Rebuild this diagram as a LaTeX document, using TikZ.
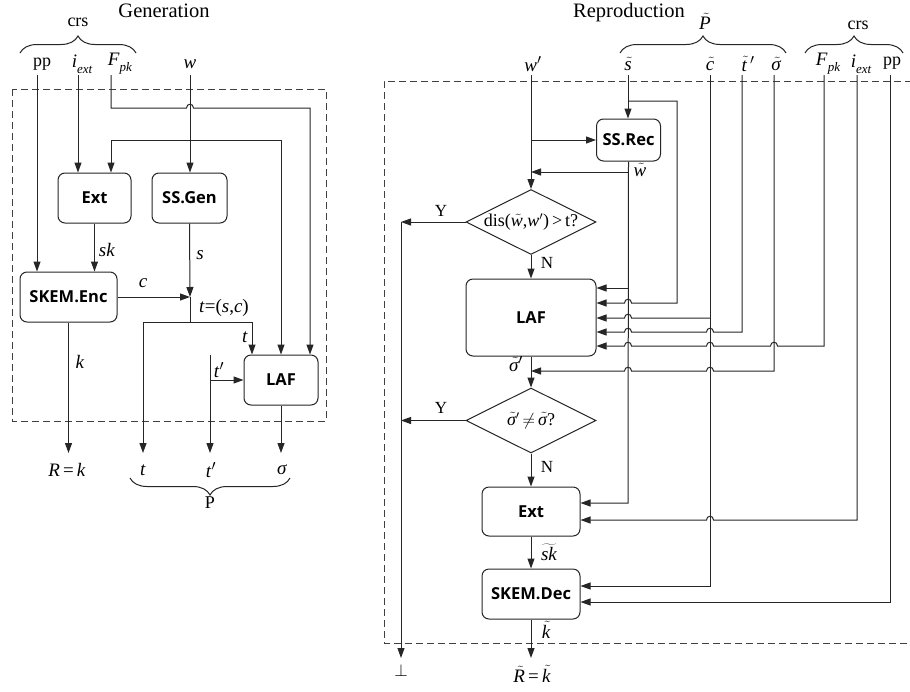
\documentclass[tikz,border=0pt]{standalone}
\usepackage{fontspec}
\setmainfont{Liberation Serif}
\setsansfont{Open Sans}
\usetikzlibrary{arrows.meta,decorations.pathreplacing,shapes.geometric}
\newcommand{\ti}[1]{\textit{#1}}
\newcommand{\tld}[1]{\ensuremath{\skew{3}{\tilde}{\mbox{\itshape #1}}}}
\newcommand{\prm}{\ensuremath{{}^{\prime}}}
\newcommand{\sbs}[1]{\raisebox{-0.3em}{\fontsize{13}{13}\selectfont\itshape #1}}
\begin{document}
\begin{tikzpicture}[x=1pt,y=-1pt,line width=1pt,
  arr/.style={draw=black!85,-{Triangle[length=10pt,width=7pt]}},
  arrb/.style={draw=black!85,{Triangle[length=10pt,width=7pt]}-{Triangle[length=10pt,width=7pt]}},
  ln/.style={draw=black!85},
  box/.style={draw=black!85,rounded corners=7pt,inner sep=0pt,font=\sffamily\bfseries\fontsize{16.5}{18}\selectfont},
  dia/.style={draw=black!85,diamond,inner sep=0pt},
  lab/.style={inner sep=0pt,font=\fontsize{19}{21}\selectfont},
  rm/.style={inner sep=0pt,font=\fontsize{18}{20}\selectfont},
  yn/.style={inner sep=0pt,font=\fontsize{17}{20}\selectfont},
  ttl/.style={inner sep=0pt,anchor=base,font=\fontsize{20.5}{24}\selectfont},
  frame/.style={draw=black!75,dash pattern=on 7pt off 4pt},
  brc/.style={draw=black!85,decorate,decoration={brace,amplitude=17pt}},
  hopl/.style args={#1,#2}{insert path={-- (#1+3.5,#2) .. controls (#1+3.5,#2-5) and (#1-3.5,#2-5) .. (#1-3.5,#2)}},
  hopr/.style args={#1,#2}{insert path={-- (#1-3.5,#2) .. controls (#1-3.5,#2-5) and (#1+3.5,#2-5) .. (#1+3.5,#2)}}
]
\fill[white] (0,0) rectangle (910,691);
\useasboundingbox (0,0) rectangle (910,691);

%%%%%%%%%%%%%%%% Generation
\node[ttl] (gen) at (164,17) {Generation};
\node[rm] (crsL) at (78,22) {crs};
\draw[brc] (20,53) -- (136,53);
\node[rm] (ppL) at (42,64) {pp};
\node[lab] (iL) at (82,64) {\ti{i}\sbs{ext}};
\node[lab] (fL) at (120,64) {\ti{F}\sbs{pk}};
\node[lab] (wL) at (190,64) {\ti{w}};

\draw[frame] (12,89) rectangle (326,421);

\node[box,minimum width=73pt,minimum height=50pt] (ext) at (94.5,198) {Ext};
\node[box,minimum width=75pt,minimum height=50pt] (ssg) at (189.5,198) {SS.Gen};
\node[box,minimum width=97pt,minimum height=50pt] (enc) at (68.5,297) {SKEM.Enc};
\node[box,minimum width=74pt,minimum height=50pt] (lafL) at (281,380) {LAF};

\coordinate (ppS) at (37,75);
\coordinate (iS) at (78,75);
\coordinate (fS) at (111,75);
\coordinate (fC) at (310,108);
\coordinate (wS) at (190,75);
\coordinate (sh1) at (111,140);
\coordinate (sh2) at (281,140);
\coordinate (jt) at (190,297);
\coordinate (jt2) at (190,322);
\coordinate (tl) at (143,322);
\coordinate (tr) at (252,322);
\coordinate (tp1) at (210,355);
\coordinate (tp2) at (210,380);
\coordinate (bot) at (0,453);

\draw[arr] (ppS) -- (ppS |- enc.north);
\draw[arr] (iS) -- (iS |- ext.north);
\draw[arr] (fS) -- (111,108) [hopr={190,108}] -- (fC) -- (fC |- lafL.north);
\draw[arr] (wS) -- (wS |- ssg.north);
\draw[arrb] (sh1 |- ext.north) -- (sh1) -- (sh2) -- (sh2 |- lafL.north);
\draw[arr] (ext.south) -- (ext.south |- enc.north);
\draw[arr] (ssg.south) -- (jt);
\draw[arr] (enc.east) -- (jt);
\draw[ln] (jt) -- (jt2);
\draw[arr] (jt2) -- (tl) -- (tl |- bot);
\draw[arr] (jt2) -- (tr) -- (tr |- lafL.north);
\draw[arr] (tp1) -- (tp1 |- bot);
\draw[arr] (tp2) -- (lafL.west);
\draw[arr] (lafL.south) -- (lafL.south |- bot);
\draw[arr] (enc.south) -- (enc.south |- bot);

\node[lab] (skl) at (107,250) {\ti{sk}};
\node[lab] (sl) at (200,255) {\ti{s}};
\node[lab] (cl) at (143,283) {\ti{c}};
\node[lab] (tcl) at (224,308) {\ti{t}=(\ti{s},\ti{c})};
\node[lab] (tl2) at (245,337) {\ti{t}};
\node[lab] (tpl) at (219,370) {\ti{t}\prm};
\node[lab] (kl) at (80,362) {\ti{k}};
\node[lab] (Rk) at (67,470) {\ti{R}\,=\,\ti{k}};
\node[lab] (tO) at (143,470) {\ti{t}};
\node[lab] (tpO) at (211,470) {\ti{t}\prm};
\node[lab] (sO) at (282,470) {\ti{σ}};
\draw[brc] (290,478) -- (130,478);
\node[rm] (Pl) at (210,503) {P};

%%%%%%%%%%%%%%%% Reproduction
\node[ttl] (rep) at (629,17) {Reproduction};
\node[lab] (Pt) at (705,21) {\tld{P}};
\draw[brc] (620,53) -- (786,53);
\node[rm] (crsR) at (858,25) {crs};
\draw[brc] (805,53) -- (903,53);
\node[lab] (wpL) at (533,64) {\ti{w}\prm};
\node[lab] (stL) at (628,64) {\tld{s}};
\node[lab] (ctL) at (710,64) {\tld{c}};
\node[lab] (ttL) at (748,64) {\tld{t}\,\prm};
\node[lab] (sgL) at (776,64) {\tld{σ}};
\node[lab] (fR) at (828,64) {\ti{F}\sbs{pk}};
\node[lab] (iR) at (861,64) {\ti{i}\sbs{ext}};
\node[rm] (ppR) at (892,63) {pp};

\draw[frame] (912,81) -- (384,81) -- (384,643) -- (912,643);

\node[box,minimum width=64pt,minimum height=42pt] (ssr) at (628.5,140) {SS.Rec};
\node[dia,minimum width=130pt,minimum height=65pt] (d1) at (531,222) {};
\node[box,minimum width=130pt,minimum height=77pt] (lafR) at (531,317.5) {LAF};
\node[dia,minimum width=130pt,minimum height=65pt] (d2) at (531,420.5) {};
\node[box,minimum width=98pt,minimum height=49pt] (extR) at (531,511.5) {Ext};
\node[box,minimum width=98pt,minimum height=50pt] (dec) at (531,594) {SKEM.Dec};
\node[lab,font=\fontsize{18}{20}\selectfont] (d1t) at (d1) {dis(\tld{w},\ti{w}\prm)\,>\,t?};
\node[lab,font=\fontsize{18}{20}\selectfont] (d2t) at (d2) {\tld{σ}\prm\,$\neq$\,\tld{σ}?};

\coordinate (wpS) at (531,75);
\coordinate (wpB) at (531,140);
\coordinate (stS) at (628,75);
\coordinate (stB) at (628,101);
\coordinate (stC) at (677,101);
\coordinate (wtB) at (628,172);
\coordinate (wtL) at (628,288);
\coordinate (ctS) at (710,75);
\coordinate (ctB) at (710,318);
\coordinate (ttS) at (742,75);
\coordinate (sgS) at (774,75);
\coordinate (fRS) at (824,75);
\coordinate (iRS) at (857,75);
\coordinate (ppRS) at (890,75);
\coordinate (ycol) at (401,222);
\coordinate (yend) at (401,658);

\draw[arr] (wpS) -- (d1.north);
\draw[arr] (wpB) -- (ssr.west);
\draw[arr] (stS) -- (stS |- ssr.north);
\draw[arr] (stB) -- (stC) -- (677,303) [hopl={628,303}] -- (lafR.east |- 0,303);
\draw[arr] (ssr.south) -- (628,503) -- (extR.east |- 0,503);
\draw[arr] (wtB) -- (wpS |- wtB);
\draw[arr] (wtL) -- (lafR.east |- wtL);
\draw[arr] (ctS) -- (710,586) -- (dec.east |- 0,586);
\draw[arr] (ctB) [hopl={628,318}] -- (lafR.east |- ctB);
\draw[arr] (ttS) -- (742,332) [hopl={710,332}] [hopl={628,332}] -- (lafR.east |- 0,332);
\draw[arr] (sgS) -- (774,371) [hopl={710,371}] [hopl={628,371}] -- (lafR.south |- 0,371);
\draw[arr] (fRS) -- (824,346) [hopl={774,346}] [hopl={710,346}] [hopl={628,346}] -- (lafR.east |- 0,346);
\draw[arr] (iRS) -- (857,520) [hopl={710,520}] -- (extR.east |- 0,520);
\draw[arr] (ppRS) -- (890,602) -- (dec.east |- 0,602);

\draw[arr] (d1.south) -- (lafR.north);
\draw[arr] (lafR.south) -- (d2.north);
\draw[arr] (d2.south) -- (extR.north);
\draw[arr] (extR.south) -- (dec.north);
\draw[arr] (dec.south) -- (531,658);
\draw[arr] (d1.west) -- (ycol);
\draw[arr] (ycol) -- (yend);
\draw[arr] (d2.west) -- (ycol |- d2.west);

\node[lab] (perp) at (401,670) {$\bot$};
\node[yn] (y1) at (441,211) {Y};
\node[yn] (n1) at (547,263) {N};
\node[yn] (y2) at (441,408) {Y};
\node[yn] (n2) at (547,467) {N};
\node[lab] (wtl) at (640,170) {\tld{w}};
\node[lab] (sgp) at (516,364) {\tld{σ}\prm};
\node[lab] (skt) at (549,552) {$\widetilde{\mbox{\itshape sk}}$};
\node[lab] (kt) at (546,630) {\tld{k}};
\node[lab] (Rt) at (532,674) {\tld{R}\,=\,\tld{k}};
\end{tikzpicture}
\end{document}
